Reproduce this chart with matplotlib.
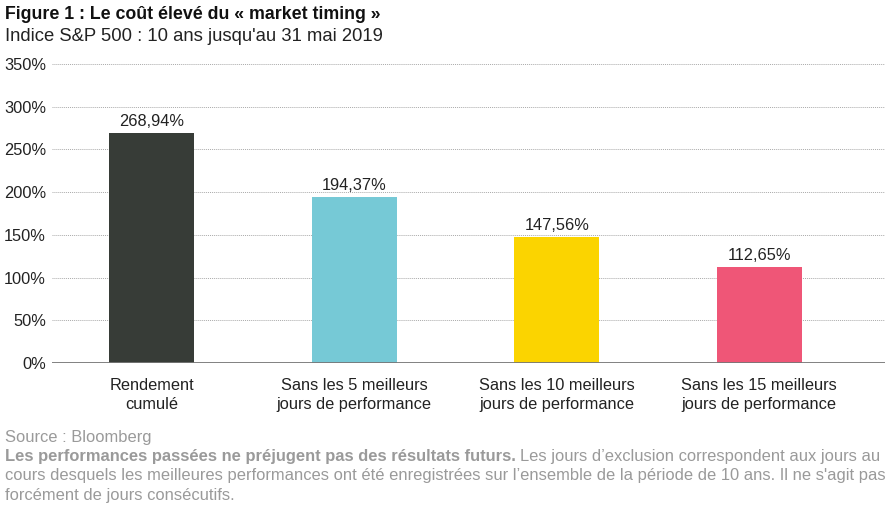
import matplotlib.pyplot as plt

categories = ["Rendement\ncumulé", "Sans les 5 meilleurs\njours de performance",
              "Sans les 10 meilleurs\njours de performance", "Sans les 15 meilleurs\njours de performance"]
values = [268.94, 194.37, 147.56, 112.65]
labels = ["268,94%", "194,37%", "147,56%", "112,65%"]
colors = ["#373c37", "#76c9d6", "#fbd400", "#ef5677"]
yticks = [0, 50, 100, 150, 200, 250, 300, 350]

plt.rcParams['font.family'] = ['Liberation Sans', 'DejaVu Sans']

fig = plt.figure(figsize=(8.9, 5.08), dpi=100)
ax = fig.add_axes([0.058, 0.2854, 0.936, 0.5886])

x = list(range(len(values)))
bars = ax.bar(x, values, width=0.42, color=colors, zorder=2)
for b, lab in zip(bars, labels):
    ax.text(b.get_x() + b.get_width() / 2, b.get_height() + 4.5, lab,
            ha='center', va='bottom', fontsize=11.8, color='#222222')

ax.set_ylim(0, 350)
ax.set_xlim(-0.495, 3.62)
ax.set_yticks(yticks)
ax.set_yticklabels([f"{t}%" for t in yticks], fontsize=11.8, color='#222222')
ax.set_xticks(x)
ax.set_xticklabels(categories, fontsize=11.8, color='#222222', linespacing=1.3)
ax.tick_params(axis='x', length=0, pad=11)
ax.tick_params(axis='y', length=0, pad=4)
ax.grid(axis='y', color='#aaaaaa', linestyle=(0, (1, 1)), linewidth=0.7, zorder=0)
for s in ax.spines.values():
    s.set_visible(False)
ax.axhline(0, color='#777777', linewidth=1.3, zorder=3)

fig.text(0.006, 0.972, "Figure 1 : Le coût élevé du « market timing »", fontsize=12.8,
         fontweight='bold', color='#111111', va='center')
fig.text(0.006, 0.929, "Indice S&P 500 : 10 ans jusqu'au 31 mai 2019", fontsize=13.3,
         color='#222222', va='center')

grey = '#9a9a9a'
fs = 11.9
fig.text(0.006, 0.139, "Source : Bloomberg", fontsize=fs, color=grey, va='center')
bold = fig.text(0.006, 0.102, "Les performances passées ne préjugent pas des résultats futurs.",
                fontsize=fs, color=grey, va='center', fontweight='bold')
ax.annotate("Les jours d’exclusion correspondent aux jours au", xy=(1, 0.5),
            xycoords=bold, xytext=(3, 0), textcoords='offset points',
            fontsize=fs, color=grey, va='center', ha='left', annotation_clip=False)
fig.text(0.006, 0.063, "cours desquels les meilleures performances ont été enregistrées sur l’ensemble de la période de 10 ans. Il ne s'agit pas",
         fontsize=fs, color=grey, va='center')
fig.text(0.006, 0.025, "forcément de jours consécutifs.", fontsize=fs, color=grey, va='center')

fig.savefig("out.png", dpi=100)
